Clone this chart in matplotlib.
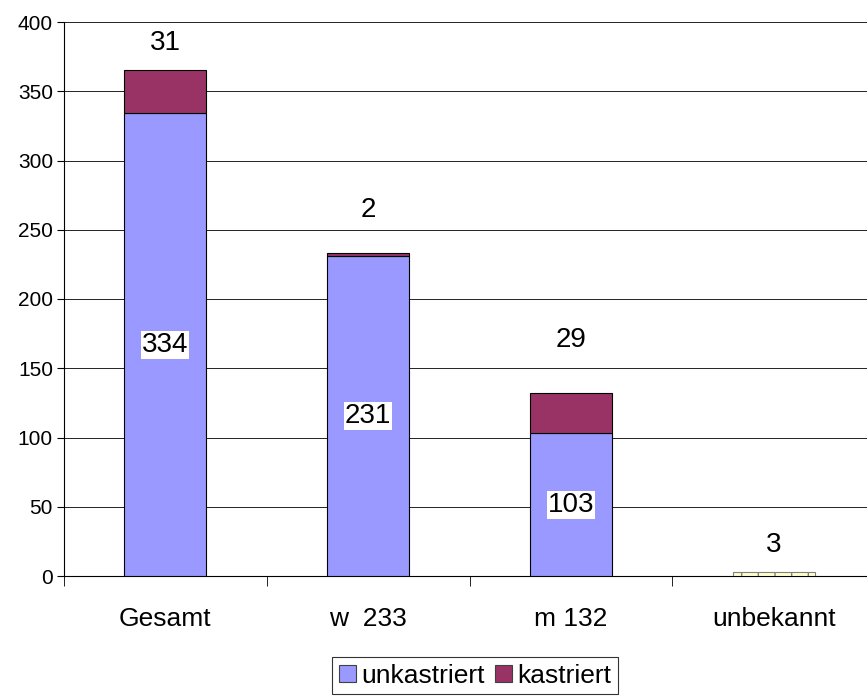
import matplotlib
matplotlib.use("Agg")
from matplotlib import pyplot as plt
import numpy as np

plt.rcParams['font.family'] = ['Liberation Sans', 'DejaVu Sans']

categories = ["Gesamt", "w  233", "m 132", "unbekannt"]
unkastriert = [334, 231, 103, 0]
kastriert = [31, 2, 29, 0]
unbekannt = [0, 0, 0, 3]
top_labels = ["31", "2", "29", "3"]
inner_labels = ["334", "231", "103", ""]

fig = plt.figure(figsize=(8.67, 6.98), dpi=100)
# plot area runs a bit past the right edge of the picture
ax = fig.add_axes([64 / 867, 122 / 698, 811 / 867, 554 / 698])

x = np.arange(len(categories))
w = 0.405
ax.bar(x, unkastriert, w, color="#9999FF", edgecolor="black", linewidth=0.8, label="unkastriert", zorder=3)
ax.bar(x, kastriert, w, bottom=unkastriert, color="#993366", edgecolor="black", linewidth=0.8, label="kastriert", zorder=3)
ax.bar(x, unbekannt, w, color="#FFFFCC", edgecolor="#808080", hatch="|", linewidth=0.8, zorder=3)

tops = np.array(unkastriert) + np.array(kastriert) + np.array(unbekannt)
offsets = [15, 26, 33, 14]
for i, t in enumerate(top_labels):
    ax.text(x[i], tops[i] + offsets[i], t, ha="center", va="baseline", fontsize=20)
for i, t in enumerate(inner_labels):
    if t:
        ax.text(x[i], unkastriert[i] / 2, t, ha="center", va="center", fontsize=20,
                bbox=dict(facecolor="white", edgecolor="none", pad=0.5), zorder=4)

ax.set_xlim(-0.5, 3.5)
ax.set_ylim(0, 400)
ax.set_yticks(range(0, 401, 50))
ax.yaxis.grid(True, color="black", linewidth=0.6, zorder=0)
ax.set_xticks(x)
ax.set_xticklabels(categories, fontsize=19)
ax.set_xticks(np.arange(-0.5, 4, 1), minor=True)
ax.tick_params(axis="x", which="major", length=0, pad=22)
ax.tick_params(axis="x", which="minor", length=7, color="black")
ax.tick_params(axis="y", labelsize=15, length=5, direction="out", pad=3)
for s in ["top", "right"]:
    ax.spines[s].set_visible(False)
ax.spines["left"].set_linewidth(0.8)
ax.spines["bottom"].set_linewidth(0.8)

leg = ax.legend(loc="upper center", bbox_to_anchor=(475 / 867, 1 - 657 / 698), bbox_transform=fig.transFigure,
                ncol=2, fontsize=19, frameon=True, fancybox=False, edgecolor="black",
                handlelength=0.65, handleheight=0.65, handletextpad=0.2, columnspacing=0.4,
                borderpad=0.25, borderaxespad=0)
leg.get_frame().set_linewidth(0.8)
for h in leg.legend_handles:
    h.set_edgecolor("#404040")

fig.savefig("out.png", dpi=100)
